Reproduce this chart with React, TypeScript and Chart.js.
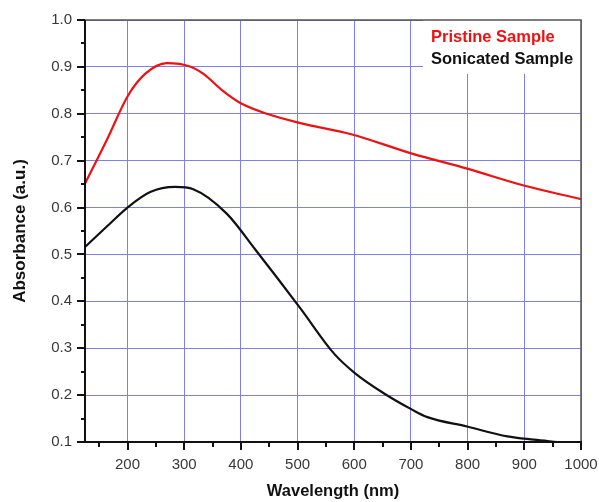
import React, { useEffect, useRef } from "react";
import { Chart, registerables } from "chart.js";

Chart.register(...registerables);

const xTicks = [200, 300, 400, 500, 600, 700, 800, 900, 1000];
const xMinorTicks = [150, 250, 350, 450, 550, 650, 750, 850, 950];
const yTicks = [0.1, 0.2, 0.3, 0.4, 0.5, 0.6, 0.7, 0.8, 0.9, 1.0];
const yMinorTicks = [0.15, 0.25, 0.35, 0.45, 0.55, 0.65, 0.75, 0.85, 0.95];

const seriesLabels = ["Pristine Sample", "Sonicated Sample"];
const seriesColors = ["#ee1111", "#111111"];

const pristineX = [125, 163, 201, 231, 269, 310, 334, 366, 399, 446, 505, 593, 702, 799, 899, 1000];
const pristineY = [0.651, 0.743, 0.839, 0.885, 0.908, 0.901, 0.885, 0.851, 0.823, 0.8, 0.78, 0.757, 0.715, 0.683, 0.647, 0.618];

const sonicatedX = [125, 163, 201, 240, 284, 316, 375, 425, 505, 564, 601, 652, 702, 729, 799, 870, 917, 958];
const sonicatedY = [0.516, 0.559, 0.601, 0.633, 0.644, 0.639, 0.587, 0.511, 0.385, 0.289, 0.247, 0.204, 0.169, 0.153, 0.133, 0.112, 0.105, 0.1];

const FONT = "'Liberation Sans', Arial, Helvetica, sans-serif";

const decorPlugin = {
  id: "decor",
  beforeDatasetsDraw(chart: any) {
    const { ctx, chartArea } = chart;
    const { right, top } = chartArea;
    ctx.save();
    ctx.fillStyle = "#ffffff";
    ctx.fillRect(right - 158, top, 158, 54);
    ctx.restore();
  },
  afterDraw(chart: any) {
    const { ctx, chartArea, scales } = chart;
    const { left, right, top, bottom } = chartArea;
    const x = scales.x;
    const y = scales.y;
    ctx.save();
    ctx.strokeStyle = "#555555";
    ctx.lineWidth = 1.5;
    ctx.beginPath();
    ctx.moveTo(left, top);
    ctx.lineTo(right, top);
    ctx.lineTo(right, bottom);
    ctx.stroke();
    ctx.strokeStyle = "#111111";
    ctx.lineWidth = 2;
    ctx.beginPath();
    ctx.moveTo(left, top);
    ctx.lineTo(left, bottom);
    ctx.lineTo(right + 1, bottom);
    ctx.stroke();
    ctx.lineWidth = 2;
    ctx.beginPath();
    yTicks.forEach((v) => {
      const py = Math.round(y.getPixelForValue(v));
      ctx.moveTo(left - 8, py);
      ctx.lineTo(left, py);
    });
    yMinorTicks.forEach((v) => {
      const py = Math.round(y.getPixelForValue(v));
      ctx.moveTo(left - 4, py);
      ctx.lineTo(left, py);
    });
    xTicks.forEach((v) => {
      const px = Math.round(x.getPixelForValue(v));
      ctx.moveTo(px, bottom);
      ctx.lineTo(px, bottom + 8);
    });
    xMinorTicks.forEach((v) => {
      const px = Math.round(x.getPixelForValue(v));
      ctx.moveTo(px, bottom);
      ctx.lineTo(px, bottom + 5);
    });
    ctx.stroke();
    ctx.font = `bold 16.5px ${FONT}`;
    ctx.textAlign = "left";
    ctx.textBaseline = "middle";
    chart.data.datasets.forEach((ds: any, i: number) => {
      ctx.fillStyle = ds.borderColor;
      ctx.fillText(ds.label, right - 150, top + 17 + i * 22);
    });
    ctx.restore();
  },
};

export default function App() {
  const ref = useRef<HTMLCanvasElement | null>(null);
  useEffect(() => {
    document.body.style.margin = "0";
    const canvas = ref.current;
    if (!canvas) return;
    const chart = new Chart(canvas, {
      type: "line",
      data: {
        datasets: [
          {
            label: seriesLabels[0],
            data: pristineX.map((v, i) => ({ x: v, y: pristineY[i] })),
            borderColor: seriesColors[0],
            borderWidth: 2.2,
            pointRadius: 0,
            cubicInterpolationMode: "monotone",
            fill: false,
          },
          {
            label: seriesLabels[1],
            data: sonicatedX.map((v, i) => ({ x: v, y: sonicatedY[i] })),
            borderColor: seriesColors[1],
            borderWidth: 2.2,
            pointRadius: 0,
            cubicInterpolationMode: "monotone",
            fill: false,
          },
        ],
      },
      options: {
        animation: false,
        responsive: false,
        maintainAspectRatio: false,
        layout: { padding: { top: 20, right: 18, left: 0, bottom: 0 } },
        plugins: {
          legend: { display: false },
          tooltip: { enabled: false },
        },
        scales: {
          x: {
            type: "linear",
            min: 125,
            max: 1000,
            afterBuildTicks: (s: any) => {
              s.ticks = xTicks.map((v) => ({ value: v }));
            },
            afterFit: (s: any) => {
              s.height = 60;
              s.paddingLeft = 0;
              s.paddingRight = 0;
            },
            grid: { color: "#7f7fec", lineWidth: 1, drawTicks: false },
            border: { display: false },
            ticks: {
              padding: 14,
              color: "#383838",
              font: { family: FONT, size: 15 },
              maxRotation: 0,
              callback: (v: any) => String(v),
            },
            title: {
              display: true,
              text: "Wavelength (nm)",
              color: "#111111",
              font: { family: FONT, size: 16.5, weight: "bold" },
              padding: { top: 0, bottom: 1 },
            },
          },
          y: {
            type: "linear",
            min: 0.1,
            max: 1.0,
            afterBuildTicks: (s: any) => {
              s.ticks = yTicks.map((v) => ({ value: v }));
            },
            afterFit: (s: any) => {
              s.width = 85;
              s.paddingTop = 0;
              s.paddingBottom = 0;
            },
            grid: { color: "#7f7fec", lineWidth: 1, drawTicks: false },
            border: { display: false },
            ticks: {
              padding: 13,
              color: "#383838",
              font: { family: FONT, size: 15 },
              callback: (v: any) => Number(v).toFixed(1),
            },
            title: {
              display: true,
              text: "Absorbance (a.u.)",
              color: "#111111",
              font: { family: FONT, size: 17, weight: "bold" },
              padding: { top: 10, bottom: 0 },
            },
          },
        },
      },
      plugins: [decorPlugin],
    } as any);
    return () => chart.destroy();
  }, []);
  return (
    <div style={{ width: 599, height: 502, position: "relative", background: "#ffffff" }}>
      <canvas ref={ref} width={599} height={502} style={{ display: "block" }} />
    </div>
  );
}
